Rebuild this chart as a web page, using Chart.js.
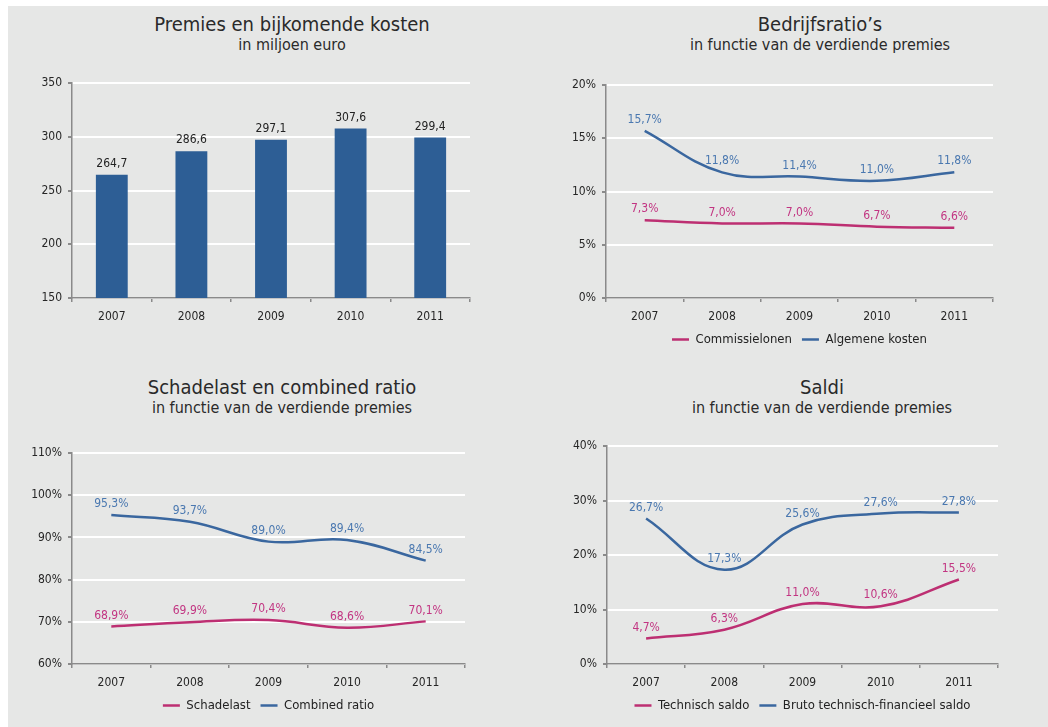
<!DOCTYPE html>
<html>
<head>
<meta charset="utf-8">
<script src="https://cdn.jsdelivr.net/npm/chart.js@4.4.1/dist/chart.umd.min.js"></script>
<style>
  html, body { margin: 0; padding: 0; width: 1048px; height: 727px; overflow: hidden; background: #fff; }
  #panel { position: absolute; left: 8px; top: 6px; width: 1040px; height: 721px; background: #e6e7e6; }
  .title, .sub {
    position: absolute; width: 500px; text-align: center; white-space: nowrap;
    color: #2a2a2a; font-family: 'DejaVu Sans Condensed', 'DejaVu Sans', sans-serif;
  }
  .title { font-size: 20px; line-height: 24px; }
  .sub { font-size: 16px; line-height: 20px; }
  canvas { position: absolute; }
</style>
</head>
<body>
<div id="panel"></div>

<div class="title" style="left:42px;top:12px">Premies en bijkomende kosten</div>
<div class="sub" style="left:42px;top:35px">in miljoen euro</div>
<div class="title" style="left:570px;top:12px">Bedrijfsratio’s</div>
<div class="sub" style="left:570px;top:35px">in functie van de verdiende premies</div>
<div class="title" style="left:32px;top:375px">Schadelast en combined ratio</div>
<div class="sub" style="left:32px;top:398px">in functie van de verdiende premies</div>
<div class="title" style="left:572px;top:375px">Saldi</div>
<div class="sub" style="left:572px;top:398px">in functie van de verdiende premies</div>

<canvas id="premiesChart" width="512" height="300" style="left:8px;top:60px"></canvas>
<canvas id="ratioChart" width="528" height="300" style="left:520px;top:60px"></canvas>
<canvas id="schadeChart" width="512" height="307" style="left:8px;top:420px"></canvas>
<canvas id="saldiChart" width="528" height="307" style="left:520px;top:420px"></canvas>

<script>
  const FONT = "'DejaVu Sans Condensed', 'DejaVu Sans', sans-serif";
  Chart.defaults.font.family = FONT;
  Chart.defaults.color = '#262626';

  const years = ['2007', '2008', '2009', '2010', '2011'];

  // Premies en bijkomende kosten, in miljoen euro
  const premies = [264.7, 286.6, 297.1, 307.6, 299.4];
  const premiesAxis = [150, 350, 50];

  // Bedrijfsratio's, % van de verdiende premies
  const commissielonen = [7.3, 7.0, 7.0, 6.7, 6.6];
  const algemeneKosten = [15.7, 11.8, 11.4, 11.0, 11.8];
  const ratioAxis = [0, 20, 5];

  // Schadelast en combined ratio
  const schadelast = [68.9, 69.9, 70.4, 68.6, 70.1];
  const combinedRatio = [95.3, 93.7, 89.0, 89.4, 84.5];
  const schadeAxis = [60, 110, 10];

  // Saldi
  const technischSaldo = [4.7, 6.3, 11.0, 10.6, 15.5];
  const brutoSaldo = [26.7, 17.3, 25.6, 27.6, 27.8];
  const saldiAxis = [0, 40, 10];

  const PINK = '#bd2f72';
  const PINK_TXT = '#c23582';
  const BLUE = '#3a679f';
  const BLUE_TXT = '#4a78b0';
  const BAR = '#2d5e95';
  const AXIS = '#8a8a8a';

  const fmt = (v, suffix) => v.toFixed(1).replace('.', ',') + suffix;

  // writes each value just above its bar top / line point
  const valueLabels = {
    id: 'valueLabels',
    afterDatasetsDraw(chart, args, opts) {
      const ctx = chart.ctx;
      ctx.save();
      ctx.font = '12px ' + FONT;
      ctx.textAlign = 'center';
      ctx.textBaseline = 'middle';
      chart.data.datasets.forEach((ds, i) => {
        ctx.fillStyle = ds.labelColor;
        chart.getDatasetMeta(i).data.forEach((el, j) => {
          ctx.fillText(fmt(ds.data[j], opts.suffix || ''), el.x, el.y - 11);
        });
      });
      ctx.restore();
    }
  };

  function scales(axis, suffix, yWidth) {
    return {
      x: {
        offset: true,
        grid: { offset: true, drawOnChartArea: false, color: AXIS, lineWidth: 1.5, tickLength: 4 },
        border: { color: AXIS, width: 1.5 },
        ticks: { color: '#262626', font: { size: 12 }, padding: 8 },
        afterFit: s => { s.height = 25; }
      },
      y: {
        min: axis[0],
        max: axis[1],
        grid: { color: '#ffffff', lineWidth: 2, tickColor: AXIS, tickLength: 4 },
        border: { color: AXIS, width: 1.5 },
        ticks: { stepSize: axis[2], color: '#262626', font: { size: 12 }, padding: 6, callback: v => v + suffix },
        afterFit: s => { s.width = yWidth; }
      }
    };
  }

  const legendOpts = {
    position: 'bottom',
    fullSize: false,
    labels: {
      usePointStyle: true,
      pointStyle: 'line',
      pointStyleWidth: 17,
      color: '#222',
      font: { size: 13 },
      padding: 10
    }
  };

  function line(label, data, color, txt) {
    return {
      label, data,
      borderColor: color,
      backgroundColor: color,
      labelColor: txt,
      borderWidth: 2.5,
      tension: 0.4,
      pointRadius: 0,
      fill: false
    };
  }

  function lineChart(id, sets, axis, yWidth, padding) {
    new Chart(document.getElementById(id), {
      type: 'line',
      data: { labels: years, datasets: sets },
      options: {
        responsive: false,
        animation: false,
        layout: { padding },
        plugins: {
          legend: legendOpts,
          tooltip: { enabled: false },
          valueLabels: { suffix: '%' }
        },
        scales: scales(axis, '%', yWidth)
      },
      plugins: [valueLabels]
    });
  }

  new Chart(document.getElementById('premiesChart'), {
    type: 'bar',
    data: {
      labels: years,
      datasets: [{
        label: 'Premies',
        data: premies,
        backgroundColor: BAR,
        labelColor: '#222',
        barPercentage: 0.4,
        categoryPercentage: 1
      }]
    },
    options: {
      responsive: false,
      animation: false,
      layout: { padding: { left: 0, top: 23, right: 50, bottom: 37 } },
      plugins: {
        legend: { display: false },
        tooltip: { enabled: false },
        valueLabels: { suffix: '' }
      },
      scales: scales(premiesAxis, '', 64)
    },
    plugins: [valueLabels]
  });

  lineChart('ratioChart', [
    line('Commissielonen', commissielonen, PINK, PINK_TXT),
    line('Algemene kosten', algemeneKosten, BLUE, BLUE_TXT)
  ], ratioAxis, 86, { left: 0, top: 25, right: 55, bottom: 4 });

  lineChart('schadeChart', [
    line('Schadelast', schadelast, PINK, PINK_TXT),
    line('Combined ratio', combinedRatio, BLUE, BLUE_TXT)
  ], schadeAxis, 64, { left: 0, top: 33, right: 55, bottom: 5 });

  lineChart('saldiChart', [
    line('Technisch saldo', technischSaldo, PINK, PINK_TXT),
    line('Bruto technisch-financieel saldo', brutoSaldo, BLUE, BLUE_TXT)
  ], saldiAxis, 87, { left: 0, top: 26, right: 50, bottom: 5 });
</script>
</body>
</html>
